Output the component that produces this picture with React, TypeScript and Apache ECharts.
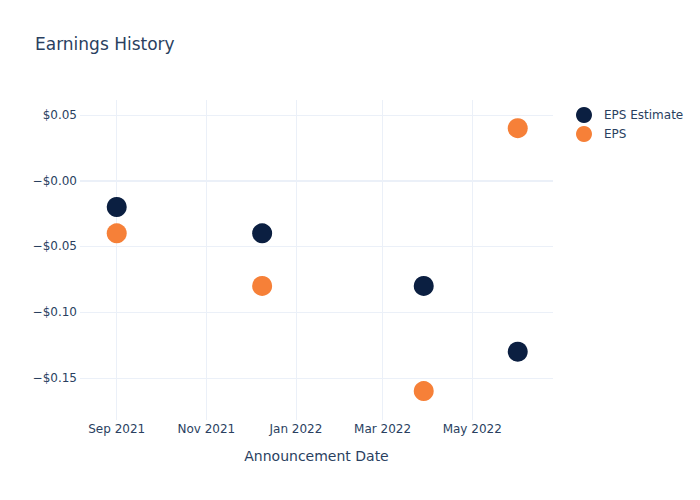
import React, { useEffect, useRef } from "react";
import * as echarts from "echarts";

const announceDates = ["2021-09-01", "2021-12-09", "2022-03-29", "2022-06-01"];
const epsEstimate = [-0.02, -0.04, -0.08, -0.13];
const epsActual = [-0.04, -0.08, -0.16, 0.04];
const yTicks = [-0.15, -0.1, -0.05, 0, 0.05];
const xTickDates = ["2021-09-01", "2021-11-01", "2022-01-01", "2022-03-01", "2022-05-01"];
const xRange = ["2021-08-07", "2022-06-25"];
const yRange = [-0.182, 0.0614];
const monthNames = ["Jan", "Feb", "Mar", "Apr", "May", "Jun", "Jul", "Aug", "Sep", "Oct", "Nov", "Dec"];

const toTs = (s: string) => {
  const [y, m, d] = s.split("-").map(Number);
  return new Date(y, m - 1, d).getTime();
};

const FONT = "DejaVu Sans";
const TEXT = "#2a3f5f";
const GRID = "#ebf0f8";

export default function App() {
  const ref = useRef<HTMLDivElement>(null);
  useEffect(() => {
    if (!ref.current) return;
    document.body.style.margin = "0";
    const chart = echarts.init(ref.current, undefined, { renderer: "svg" });
    const fmtMoney = (v: number) => {
      const r = Math.round(v * 100) / 100;
      if (r <= 0) return "\u2212$" + Math.abs(r).toFixed(2);
      return "$" + r.toFixed(2);
    };
    chart.setOption({
      animation: false,
      backgroundColor: "#ffffff",
      textStyle: { fontFamily: FONT },
      title: {
        text: "Earnings History",
        left: 30,
        top: 30,
        textStyle: { fontFamily: FONT, fontSize: 17, fontWeight: "normal", color: TEXT },
      },
      legend: {
        orient: "vertical",
        left: 571,
        top: 102,
        icon: "circle",
        itemWidth: 16,
        itemHeight: 16,
        itemGap: 3,
        textStyle: { fontFamily: FONT, fontSize: 12, color: TEXT, padding: [0, 0, 0, 7] },
        data: ["EPS Estimate", "EPS"],
      },
      grid: { left: 80, right: 147, top: 100, bottom: 80, containLabel: false },
      xAxis: {
        type: "value",
        min: toTs(xRange[0]),
        max: toTs(xRange[1]),
        name: "Announcement Date",
        nameLocation: "middle",
        nameGap: 29,
        nameTextStyle: { fontFamily: FONT, fontSize: 14, color: TEXT },
        axisLine: { show: false },
        axisTick: { show: false, customValues: xTickDates.map(toTs) },
        axisLabel: {
          customValues: xTickDates.map(toTs),
          margin: 3,
          fontFamily: FONT,
          fontSize: 12,
          color: TEXT,
          formatter: (v: number) => {
            const d = new Date(v);
            return monthNames[d.getMonth()] + " " + d.getFullYear();
          },
        },
        splitLine: { show: true, lineStyle: { color: GRID, width: 1 } },
      },
      yAxis: {
        type: "value",
        min: yRange[0],
        max: yRange[1],
        axisLine: { show: false },
        axisTick: { show: false, customValues: yTicks },
        axisLabel: {
          customValues: yTicks,
          margin: 3,
          fontFamily: FONT,
          fontSize: 12,
          color: TEXT,
          formatter: (v: number) => fmtMoney(v),
        },
        splitLine: { show: true, lineStyle: { color: GRID, width: 1 } },
      },
      series: [
        {
          name: "EPS Estimate",
          type: "scatter",
          symbolSize: 20,
          itemStyle: { color: "#0b1f41", opacity: 1 },
          data: announceDates.map((d, i) => [toTs(d), epsEstimate[i]]),
          markLine: {
            silent: true,
            symbol: "none",
            label: { show: false },
            lineStyle: { color: GRID, width: 2, type: "solid" },
            data: [{ yAxis: 0 }],
            z: 0,
          },
          z: 3,
        },
        {
          name: "EPS",
          type: "scatter",
          symbolSize: 20,
          itemStyle: { color: "#f68038", opacity: 1 },
          data: announceDates.map((d, i) => [toTs(d), epsActual[i]]),
          z: 3,
        },
      ],
    });
    return () => chart.dispose();
  }, []);
  return <div ref={ref} style={{ width: 700, height: 500 }} />;
}
